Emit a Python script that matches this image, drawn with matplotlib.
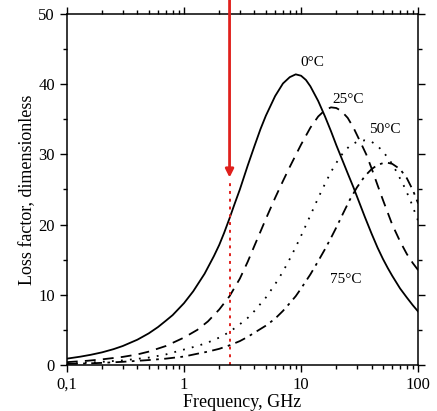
import matplotlib
matplotlib.use("Agg")
import matplotlib.pyplot as plt
from matplotlib.ticker import FixedLocator, FixedFormatter, NullFormatter, MultipleLocator

plt.rcParams['font.family'] = ['Liberation Serif', 'DejaVu Serif']

# loss factor of water
f_0 = [0.1, 0.13, 0.16, 0.2, 0.25, 0.3, 0.4, 0.5, 0.6, 0.7, 0.8, 1.0, 1.2, 1.5, 1.8, 2.0, 2.2, 2.45,
       2.7, 3, 3.5, 4, 4.5, 5, 6, 7, 8, 9, 10, 11, 12, 14, 16, 18, 20, 23, 25, 28, 30, 35, 40, 45,
       50, 55, 60, 70, 80, 90, 100]
e_0 = [0.9, 1.18, 1.45, 1.8, 2.25, 2.7, 3.6, 4.5, 5.4, 6.3, 7.1, 8.8, 10.5, 13.0, 15.5, 17.1, 18.8, 20.9,
       22.9, 25.0, 28.4, 31.2, 33.6, 35.5, 38.3, 40.1, 41.0, 41.4, 41.2, 40.6, 39.7, 37.6, 35.4, 33.3,
       31.3, 28.8, 27.3, 25.3, 24.0, 21.1, 18.7, 16.7, 15.1, 13.8, 12.7, 10.9, 9.6, 8.5, 7.6]

f_25 = [0.1, 0.15, 0.2, 0.3, 0.4, 0.5, 0.7, 1, 1.3, 1.6, 2, 2.45, 3, 3.5, 4, 4.5, 5, 6, 7, 8, 9, 10,
        12, 14, 16, 18, 20, 22, 25, 28, 32, 36, 40, 45, 50, 60, 70, 80, 90, 100]
e_25 = [0.4, 0.6, 0.8, 1.15, 1.5, 1.9, 2.7, 3.9, 5.0, 6.2, 7.9, 9.8, 12.3, 14.7, 17.0, 19.0, 20.8, 23.8,
        26.2, 28.2, 29.9, 31.4, 33.8, 35.4, 36.3, 36.7, 36.6, 36.2, 35.2, 33.8, 31.8, 30.0, 28.0, 25.6,
        23.5, 20.0, 17.6, 15.8, 14.5, 13.5]

f_50 = [0.1, 0.15, 0.2, 0.3, 0.5, 0.7, 1, 1.3, 1.6, 2, 2.45, 3, 3.5, 4, 5, 6, 7, 8, 9, 10, 12, 14,
        16, 18, 20, 23, 26, 30, 35, 40, 45, 50, 57, 65, 75, 85, 100]
e_50 = [0.2, 0.32, 0.45, 0.65, 1.05, 1.5, 2.2, 2.7, 3.2, 3.9, 4.7, 5.8, 6.7, 7.7, 9.6, 11.5, 13.3, 15.1,
        16.8, 18.4, 21.3, 23.8, 25.8, 27.5, 28.8, 30.3, 31.2, 31.8, 32.0, 31.8, 31.2, 30.4, 29.2, 27.6,
        25.6, 23.6, 20.5]

f_75 = [0.1, 0.15, 0.2, 0.3, 0.5, 0.7, 1, 1.3, 1.6, 2, 2.45, 3, 3.5, 4, 5, 6, 7, 8, 9, 10, 12, 14,
        16, 18, 20, 23, 26, 30, 35, 40, 45, 50, 55, 60, 70, 80, 90, 100]
e_75 = [0.15, 0.22, 0.3, 0.45, 0.7, 0.9, 1.2, 1.6, 1.9, 2.3, 2.8, 3.4, 4.0, 4.6, 5.6, 6.6, 7.7, 8.8,
        9.8, 10.9, 12.9, 14.8, 16.5, 18.1, 19.6, 21.7, 23.5, 25.3, 26.9, 27.9, 28.5, 28.75, 28.8, 28.65,
        27.9, 26.6, 24.9, 23.0]

f_mark = 2.45
e_mark = 26.3

fig = plt.figure(figsize=(4.37, 4.11), dpi=100)
ax = fig.add_axes([0.153, 0.112, 0.804, 0.854])

ax.plot(f_0, e_0, '-', color='black', lw=1.3)
ax.plot(f_25, e_25, color='black', lw=1.3, dashes=(6, 4))
ax.plot(f_50, e_50, color='black', lw=1.3, dashes=(1, 4))
ax.plot(f_75, e_75, color='black', lw=1.3, dashes=(6, 3, 1.5, 3))

red = '#e0201c'
ax.plot([f_mark, f_mark], [0, e_mark], color=red, lw=1.4, dashes=(1.5, 2.5))
ax.annotate('', xy=(f_mark, e_mark), xytext=(f_mark, 52.8),
            arrowprops=dict(arrowstyle='-|>', color=red, lw=2, mutation_scale=12),
            annotation_clip=False)

ax.text(9.9, 42.2, '0°C', fontsize=11, ha='left', va='bottom')
ax.text(18.5, 36.9, '25°C', fontsize=11, ha='left', va='bottom')
ax.text(38, 32.6, '50°C', fontsize=11, ha='left', va='bottom')
ax.text(17.5, 11.3, '75°C', fontsize=11, ha='left', va='bottom')

ax.set_xscale('log')
ax.set_xlim(0.1, 100)
ax.set_ylim(0, 50)
ax.xaxis.set_major_locator(FixedLocator([0.1, 1, 10, 100]))
ax.xaxis.set_major_formatter(FixedFormatter(['0,1', '1', '10', '100']))
ax.xaxis.set_minor_formatter(NullFormatter())
ax.yaxis.set_major_locator(MultipleLocator(10))
ax.yaxis.set_minor_locator(MultipleLocator(5))
ax.tick_params(which='both', direction='out', top=True, right=True, labelsize=12, width=1)
ax.tick_params(which='major', length=5)
ax.tick_params(which='minor', length=3)
for s in ax.spines.values():
    s.set_linewidth(1.1)

ax.set_xlabel('Frequency, GHz', fontsize=13, labelpad=1)
ax.set_ylabel('Loss factor, dimensionless', fontsize=13, labelpad=2)

fig.savefig('out.png', dpi=100)
